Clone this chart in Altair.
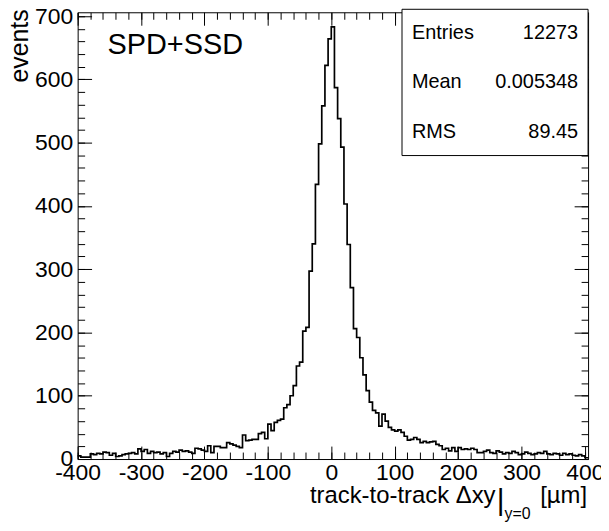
import altair as alt
import numpy as np
import pandas as pd

# bin contents, 5 um bins starting at -400
left_tail = [5, 3, 3, 3, 8, 7, 9, 8, 11, 10, 6, 9, 4, 5, 7, 8, 9, 10, 8, 16,
             12, 15, 9, 12, 10, 11, 8, 10, 4, 9, 12, 11, 14, 12, 13, 11, 9, 17,
             16, 14, 12, 21, 10, 20]
left_shoulder = [20, 18, 18, 26, 24, 22, 20, 18, 38, 29, 30, 31, 31, 40, 42, 32]
core = [55, 45, 58, 61, 63, 81, 86, 100, 116, 147, 153, 202, 208, 297, 340,
        434, 498, 558, 622, 664, 683, 587, 538, 493, 403, 339, 271, 206, 192,
        160, 133, 108, 90, 77]
right_shoulder = [73, 52, 71, 60, 50, 46, 44, 46, 42, 36, 30, 31, 34, 31, 26,
                  28, 26, 27, 28, 23, 21, 15, 17, 13, 18, 12, 18, 15, 16, 15,
                  17, 15, 10, 10]
right_tail = [12, 14, 10, 9, 13, 11, 8, 10, 9, 12, 10, 7, 8, 11, 9, 7, 8, 10, 9,
              12, 8, 7, 9, 8, 6, 9, 7, 8, 6, 5, 7, 5, 2]

stat_names = ["Entries", "Mean", "RMS"]
stat_values = ["12273", "0.005348", "89.45"]

x_major = list(range(-400, 401, 100))
x_minor = list(range(-400, 401, 20))
y_major = list(range(0, 701, 100))
y_minor = list(range(0, 701, 20))

counts = left_tail + left_shoulder + core + right_shoulder + right_tail
bin_width = 5
edges = -400 + bin_width * np.arange(len(counts) + 1)
hist = pd.DataFrame({"x": edges, "n": counts + [counts[-1]]})

W, H = 513, 449
FONT = "Liberation Sans"
xs = alt.Scale(domain=[-400, 405], nice=False, zero=False)
ys = alt.Scale(domain=[0, 706], nice=False, zero=False)

base = alt.Chart(hist)
one = alt.Chart(pd.DataFrame({"a": [0]}))


def tick_layer(channel, orient, offset, values, size):
    ax = alt.Axis(orient=orient, offset=offset, values=values, tickSize=size,
                  tickColor="black", tickWidth=1, labels=False, domain=False,
                  grid=False, title=None)
    if channel == "x":
        enc = dict(x=alt.X("x:Q", scale=xs, axis=ax),
                   y=alt.Y("n:Q", scale=ys, axis=None))
    else:
        enc = dict(x=alt.X("x:Q", scale=xs, axis=None),
                   y=alt.Y("n:Q", scale=ys, axis=ax))
    return base.mark_line(strokeOpacity=0).encode(**enc)


ticks = [
    tick_layer("x", "top", -H, x_minor, 7),
    tick_layer("x", "top", -H, x_major, 13),
    tick_layer("x", "bottom", -H, x_minor, 7),
    tick_layer("x", "bottom", -H, x_major, 13),
    tick_layer("y", "right", -W, y_minor, 7),
    tick_layer("y", "right", -W, y_major, 14),
    tick_layer("y", "left", -W, y_minor, 7),
    tick_layer("y", "left", -W, y_major, 14),
]

line = base.mark_line(interpolate="step-after", color="black", strokeWidth=1.7).encode(
    x=alt.X("x:Q", scale=xs,
            axis=alt.Axis(orient="bottom", values=x_major, ticks=False, tickSize=0,
                          domain=False, grid=False, labelFont=FONT, labelFontSize=23,
                          labelColor="black", labelPadding=3, labelFlush=False,
                          labelOverlap=False, labelExpr="'' + datum.value", title=None)),
    y=alt.Y("n:Q", scale=ys,
            axis=alt.Axis(orient="left", values=y_major, ticks=False, tickSize=0,
                          domain=False, grid=False, labelFont=FONT, labelFontSize=23,
                          labelColor="black", labelPadding=5, labelFlush=False,
                          labelOverlap=False, title=None)),
)

box = one.mark_rect(fill="white", stroke="black", strokeWidth=1).encode(
    x=alt.value(326), x2=alt.value(513), y=alt.value(-3), y2=alt.value(144))


def txt(s, x, y, size, align="left", angle=0):
    return one.mark_text(text=s, font=FONT, fontSize=size, align=align,
                         baseline="alphabetic", angle=angle, color="black").encode(
        x=alt.value(x), y=alt.value(y))


texts = []
for i, (name, val) in enumerate(zip(stat_names, stat_values)):
    texts.append(txt(name, 336, 27 + 49.5 * i, 20))
    texts.append(txt(val, 503, 27 + 49.5 * i, 20, align="right"))

texts += [
    txt("SPD+SSD", 30, 42, 29),
    txt("events", -50, -3, 25, align="right", angle=270),
    txt("track-to-track \u0394xy", 420, 493, 24, align="right"),
    txt("|", 425, 500, 30, align="center"),
    txt("y=0", 429, 509, 16),
    txt("[\u00b5m]", 512, 493, 24, align="right"),
]

chart = (
    alt.layer(*ticks, line, box, *texts)
    .resolve_axis(x="independent", y="independent")
    .properties(width=W, height=H, autosize="none",
                padding={"left": 70, "top": 3, "right": 13, "bottom": 63},
                background="white")
    .configure_view(stroke="black", strokeWidth=1)
)

chart.save("out.html", embed_options={"renderer": "svg", "actions": False})
